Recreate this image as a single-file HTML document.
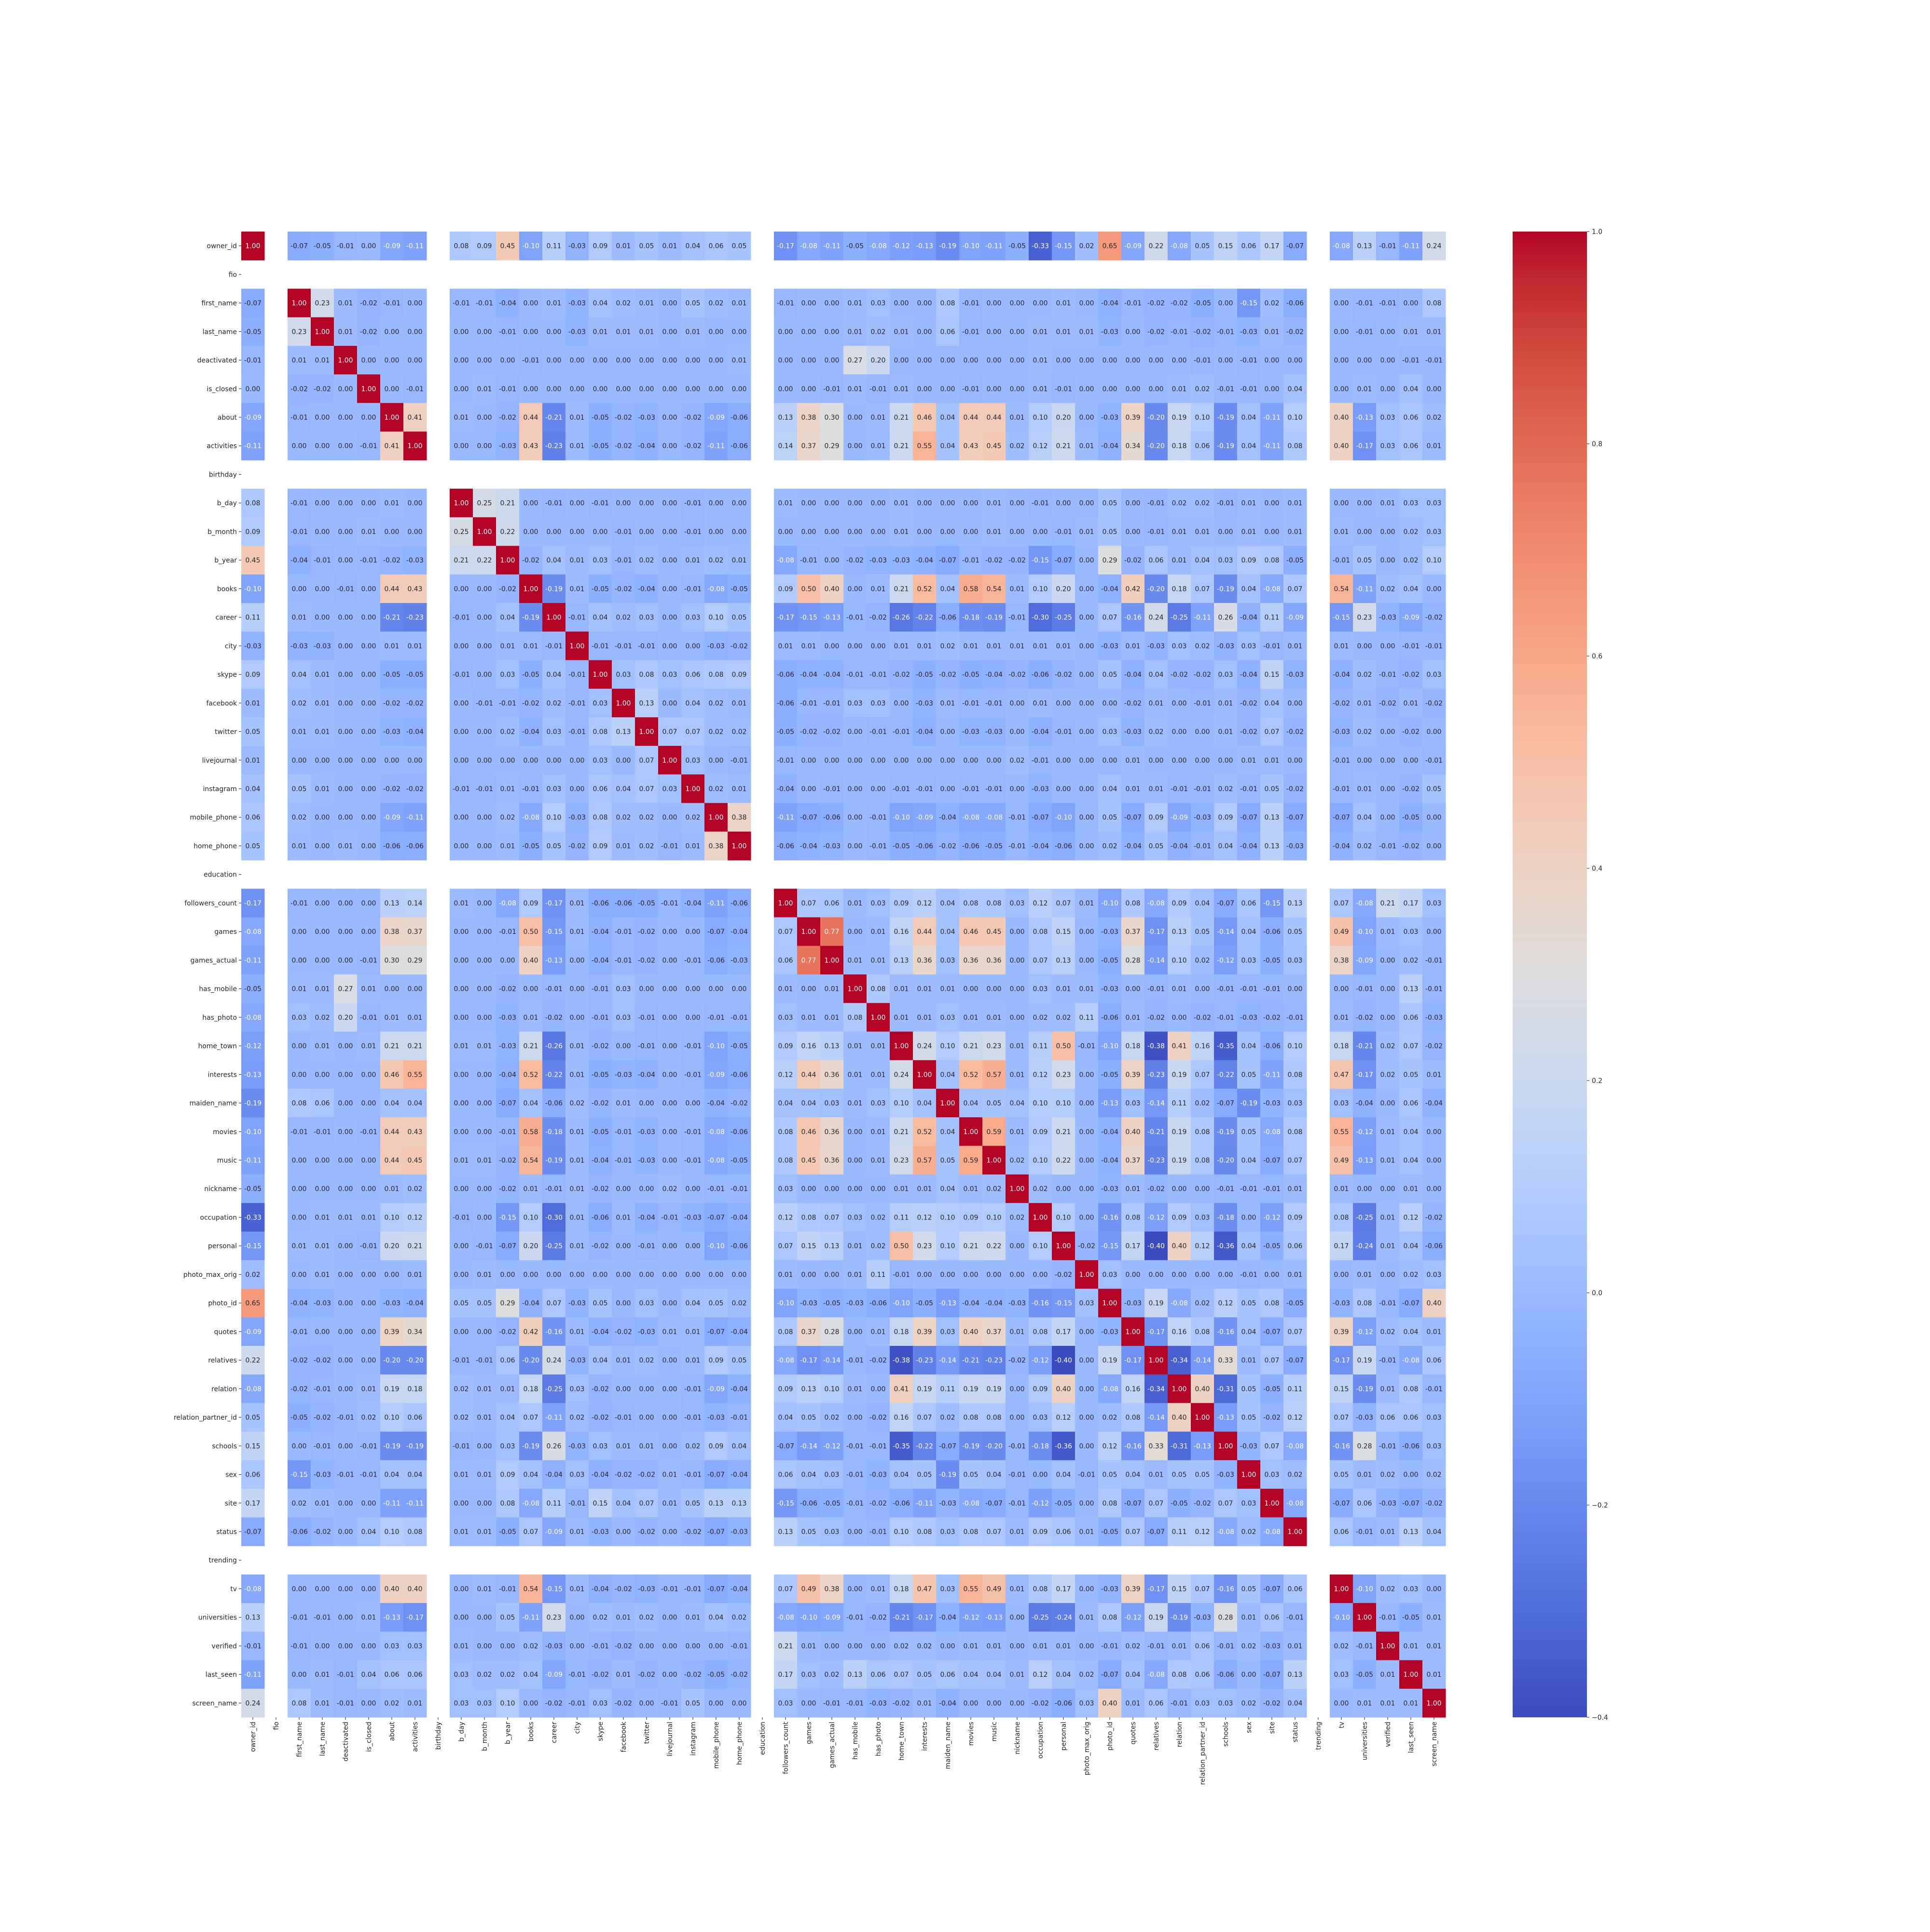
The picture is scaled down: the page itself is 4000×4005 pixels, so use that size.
<!DOCTYPE html>
<html><head><meta charset="utf-8"><style>
html,body{margin:0;padding:0;background:#fff}
svg text{font-family:"DejaVu Sans","Liberation Sans",sans-serif}
</style></head><body>
<svg id="chart" xmlns="http://www.w3.org/2000/svg" width="4000" height="4000" viewBox="0 0 4000 4000">
<rect width="4000" height="4000" fill="#fff"/>
<g id="cells"></g>
<g id="ylabels"></g>
<g id="xlabels"></g>
<g id="cbar"></g>
</svg>
<script>
const labels = ["owner_id","fio","first_name","last_name","deactivated","is_closed","about","activities","birthday","b_day","b_month","b_year","books","career","city","skype","facebook","twitter","livejournal","instagram","mobile_phone","home_phone","education","followers_count","games","games_actual","has_mobile","has_photo","home_town","interests","maiden_name","movies","music","nickname","occupation","personal","photo_max_orig","photo_id","quotes","relatives","relation","relation_partner_id","schools","sex","site","status","trending","tv","universities","verified","last_seen","screen_name"];
const emptyVars = ["fio","birthday","education","trending"];
const lowerRows = [
[],
[-0.07],
[-0.05,0.23],
[-0.01,0.01,0.01],
[-0.00,-0.02,-0.02,-0.00],
[-0.09,-0.01,-0.00,-0.00,-0.00],
[-0.11,-0.00,0.00,-0.00,-0.01,0.41],
[0.08,-0.01,0.00,0.00,0.00,0.01,-0.00],
[0.09,-0.01,-0.00,0.00,0.01,0.00,-0.00,0.25],
[0.45,-0.04,-0.01,0.00,-0.01,-0.02,-0.03,0.21,0.22],
[-0.10,-0.00,-0.00,-0.01,0.00,0.44,0.43,0.00,0.00,-0.02],
[0.11,0.01,0.00,0.00,-0.00,-0.21,-0.23,-0.01,0.00,0.04,-0.19],
[-0.03,-0.03,-0.03,0.00,0.00,0.01,0.01,-0.00,-0.00,0.01,0.01,-0.01],
[0.09,0.04,0.01,-0.00,0.00,-0.05,-0.05,-0.01,0.00,0.03,-0.05,0.04,-0.01],
[0.01,0.02,0.01,0.00,0.00,-0.02,-0.02,0.00,-0.01,-0.01,-0.02,0.02,-0.01,0.03],
[0.05,0.01,0.01,0.00,0.00,-0.03,-0.04,0.00,-0.00,0.02,-0.04,0.03,-0.01,0.08,0.13],
[0.01,-0.00,-0.00,-0.00,-0.00,-0.00,-0.00,-0.00,-0.00,0.00,-0.00,0.00,-0.00,0.03,-0.00,0.07],
[0.04,0.05,0.01,-0.00,-0.00,-0.02,-0.02,-0.01,-0.01,0.01,-0.01,0.03,0.00,0.06,0.04,0.07,0.03],
[0.06,0.02,-0.00,0.00,-0.00,-0.09,-0.11,-0.00,0.00,0.02,-0.08,0.10,-0.03,0.08,0.02,0.02,0.00,0.02],
[0.05,0.01,-0.00,0.01,0.00,-0.06,-0.06,0.00,0.00,0.01,-0.05,0.05,-0.02,0.09,0.01,0.02,-0.01,0.01,0.38],
[-0.17,-0.01,-0.00,-0.00,0.00,0.13,0.14,0.01,0.00,-0.08,0.09,-0.17,0.01,-0.06,-0.06,-0.05,-0.01,-0.04,-0.11,-0.06],
[-0.08,-0.00,0.00,-0.00,-0.00,0.38,0.37,0.00,0.00,-0.01,0.50,-0.15,0.01,-0.04,-0.01,-0.02,0.00,-0.00,-0.07,-0.04,0.07],
[-0.11,0.00,0.00,0.00,-0.01,0.30,0.29,-0.00,0.00,-0.00,0.40,-0.13,0.00,-0.04,-0.01,-0.02,0.00,-0.01,-0.06,-0.03,0.06,0.77],
[-0.05,0.01,0.01,0.27,0.01,0.00,0.00,0.00,0.00,-0.02,0.00,-0.01,0.00,-0.01,0.03,-0.00,-0.00,-0.00,-0.00,-0.00,0.01,0.00,0.01],
[-0.08,0.03,0.02,0.20,-0.01,0.01,0.01,0.00,0.00,-0.03,0.01,-0.02,0.00,-0.01,0.03,-0.01,-0.00,-0.00,-0.01,-0.01,0.03,0.01,0.01,0.08],
[-0.12,0.00,0.01,-0.00,0.01,0.21,0.21,0.01,0.01,-0.03,0.21,-0.26,0.01,-0.02,-0.00,-0.01,0.00,-0.01,-0.10,-0.05,0.09,0.16,0.13,0.01,0.01],
[-0.13,-0.00,0.00,-0.00,-0.00,0.46,0.55,-0.00,0.00,-0.04,0.52,-0.22,0.01,-0.05,-0.03,-0.04,0.00,-0.01,-0.09,-0.06,0.12,0.44,0.36,0.01,0.01,0.24],
[-0.19,0.08,0.06,-0.00,0.00,0.04,0.04,0.00,0.00,-0.07,0.04,-0.06,0.02,-0.02,0.01,-0.00,0.00,0.00,-0.04,-0.02,0.04,0.04,0.03,0.01,0.03,0.10,0.04],
[-0.10,-0.01,-0.01,-0.00,-0.01,0.44,0.43,0.00,0.00,-0.01,0.58,-0.18,0.01,-0.05,-0.01,-0.03,-0.00,-0.01,-0.08,-0.06,0.08,0.46,0.36,0.00,0.01,0.21,0.52,0.04],
[-0.11,-0.00,0.00,-0.00,-0.00,0.44,0.45,0.01,0.01,-0.02,0.54,-0.19,0.01,-0.04,-0.01,-0.03,0.00,-0.01,-0.08,-0.05,0.08,0.45,0.36,0.00,0.01,0.23,0.57,0.05,0.59],
[-0.05,0.00,0.00,0.00,0.00,0.01,0.02,-0.00,-0.00,-0.02,0.01,-0.01,0.01,-0.02,0.00,0.00,0.02,0.00,-0.01,-0.01,0.03,0.00,0.00,0.00,0.00,0.01,0.01,0.04,0.01,0.02],
[-0.33,-0.00,0.01,0.01,0.01,0.10,0.12,-0.01,-0.00,-0.15,0.10,-0.30,0.01,-0.06,0.01,-0.04,-0.01,-0.03,-0.07,-0.04,0.12,0.08,0.07,0.03,0.02,0.11,0.12,0.10,0.09,0.10,0.02],
[-0.15,0.01,0.01,-0.00,-0.01,0.20,0.21,-0.00,-0.01,-0.07,0.20,-0.25,0.01,-0.02,-0.00,-0.01,0.00,-0.00,-0.10,-0.06,0.07,0.15,0.13,0.01,0.02,0.50,0.23,0.10,0.21,0.22,0.00,0.10],
[0.02,-0.00,0.01,-0.00,-0.00,0.00,0.01,0.00,0.01,0.00,0.00,0.00,0.00,0.00,0.00,0.00,0.00,0.00,0.00,0.00,0.01,0.00,-0.00,0.01,0.11,-0.01,0.00,0.00,0.00,0.00,-0.00,0.00,-0.02],
[0.65,-0.04,-0.03,-0.00,-0.00,-0.03,-0.04,0.05,0.05,0.29,-0.04,0.07,-0.03,0.05,-0.00,0.03,-0.00,0.04,0.05,0.02,-0.10,-0.03,-0.05,-0.03,-0.06,-0.10,-0.05,-0.13,-0.04,-0.04,-0.03,-0.16,-0.15,0.03],
[-0.09,-0.01,-0.00,-0.00,-0.00,0.39,0.34,0.00,0.00,-0.02,0.42,-0.16,0.01,-0.04,-0.02,-0.03,0.01,0.01,-0.07,-0.04,0.08,0.37,0.28,0.00,0.01,0.18,0.39,0.03,0.40,0.37,0.01,0.08,0.17,0.00,-0.03],
[0.22,-0.02,-0.02,-0.00,-0.00,-0.20,-0.20,-0.01,-0.01,0.06,-0.20,0.24,-0.03,0.04,0.01,0.02,0.00,0.01,0.09,0.05,-0.08,-0.17,-0.14,-0.01,-0.02,-0.38,-0.23,-0.14,-0.21,-0.23,-0.02,-0.12,-0.40,0.00,0.19,-0.17],
[-0.08,-0.02,-0.01,0.00,0.01,0.19,0.18,0.02,0.01,0.01,0.18,-0.25,0.03,-0.02,-0.00,-0.00,0.00,-0.01,-0.09,-0.04,0.09,0.13,0.10,0.01,-0.00,0.41,0.19,0.11,0.19,0.19,0.00,0.09,0.40,0.00,-0.08,0.16,-0.34],
[0.05,-0.05,-0.02,-0.01,0.02,0.10,0.06,0.02,0.01,0.04,0.07,-0.11,0.02,-0.02,-0.01,-0.00,0.00,-0.01,-0.03,-0.01,0.04,0.05,0.02,-0.00,-0.02,0.16,0.07,0.02,0.08,0.08,0.00,0.03,0.12,0.00,0.02,0.08,-0.14,0.40],
[0.15,0.00,-0.01,0.00,-0.01,-0.19,-0.19,-0.01,-0.00,0.03,-0.19,0.26,-0.03,0.03,0.01,0.01,0.00,0.02,0.09,0.04,-0.07,-0.14,-0.12,-0.01,-0.01,-0.35,-0.22,-0.07,-0.19,-0.20,-0.01,-0.18,-0.36,0.00,0.12,-0.16,0.33,-0.31,-0.13],
[0.06,-0.15,-0.03,-0.01,-0.01,0.04,0.04,0.01,0.01,0.09,0.04,-0.04,0.03,-0.04,-0.02,-0.02,0.01,-0.01,-0.07,-0.04,0.06,0.04,0.03,-0.01,-0.03,0.04,0.05,-0.19,0.05,0.04,-0.01,0.00,0.04,-0.01,0.05,0.04,0.01,0.05,0.05,-0.03],
[0.17,0.02,0.01,-0.00,-0.00,-0.11,-0.11,-0.00,-0.00,0.08,-0.08,0.11,-0.01,0.15,0.04,0.07,0.01,0.05,0.13,0.13,-0.15,-0.06,-0.05,-0.01,-0.02,-0.06,-0.11,-0.03,-0.08,-0.07,-0.01,-0.12,-0.05,-0.00,0.08,-0.07,0.07,-0.05,-0.02,0.07,0.03],
[-0.07,-0.06,-0.02,-0.00,0.04,0.10,0.08,0.01,0.01,-0.05,0.07,-0.09,0.01,-0.03,0.00,-0.02,-0.00,-0.02,-0.07,-0.03,0.13,0.05,0.03,0.00,-0.01,0.10,0.08,0.03,0.08,0.07,0.01,0.09,0.06,0.01,-0.05,0.07,-0.07,0.11,0.12,-0.08,0.02,-0.08],
[-0.08,-0.00,-0.00,0.00,-0.00,0.40,0.40,0.00,0.01,-0.01,0.54,-0.15,0.01,-0.04,-0.02,-0.03,-0.01,-0.01,-0.07,-0.04,0.07,0.49,0.38,0.00,0.01,0.18,0.47,0.03,0.55,0.49,0.01,0.08,0.17,0.00,-0.03,0.39,-0.17,0.15,0.07,-0.16,0.05,-0.07,0.06],
[0.13,-0.01,-0.01,0.00,0.01,-0.13,-0.17,0.00,0.00,0.05,-0.11,0.23,-0.00,0.02,0.01,0.02,-0.00,0.01,0.04,0.02,-0.08,-0.10,-0.09,-0.01,-0.02,-0.21,-0.17,-0.04,-0.12,-0.13,-0.00,-0.25,-0.24,0.01,0.08,-0.12,0.19,-0.19,-0.03,0.28,0.01,0.06,-0.01,-0.10],
[-0.01,-0.01,0.00,0.00,-0.00,0.03,0.03,0.01,0.00,0.00,0.02,-0.03,-0.00,-0.01,-0.02,-0.00,0.00,0.00,-0.00,-0.01,0.21,0.01,-0.00,0.00,0.00,0.02,0.02,0.00,0.01,0.01,-0.00,0.01,0.01,0.00,-0.01,0.02,-0.01,0.01,0.06,-0.01,0.02,-0.03,0.01,0.02,-0.01],
[-0.11,0.00,0.01,-0.01,0.04,0.06,0.06,0.03,0.02,0.02,0.04,-0.09,-0.01,-0.02,0.01,-0.02,-0.00,-0.02,-0.05,-0.02,0.17,0.03,0.02,0.13,0.06,0.07,0.05,0.06,0.04,0.04,0.01,0.12,0.04,0.02,-0.07,0.04,-0.08,0.08,0.06,-0.06,-0.00,-0.07,0.13,0.03,-0.05,0.01],
[0.24,0.08,0.01,-0.01,-0.00,0.02,0.01,0.03,0.03,0.10,0.00,-0.02,-0.01,0.03,-0.02,-0.00,-0.01,0.05,-0.00,-0.00,0.03,0.00,-0.01,-0.01,-0.03,-0.02,0.01,-0.04,0.00,0.00,0.00,-0.02,-0.06,0.03,0.40,0.01,0.06,-0.01,0.03,0.03,0.02,-0.02,0.04,0.00,0.01,0.01,0.01]
];
const cbarTicks = [-0.4,-0.2,0.0,0.2,0.4,0.6,0.8,1.0];
const vmin = -0.4, vmax = 1.0;

const X0=500, Y0=480, CW=48, CH=(3560-480)/52;
const NS="http://www.w3.org/2000/svg";
const CM=[[59,76,192],[68,90,204],[77,104,215],[87,117,225],[98,130,234],[108,142,241],[119,154,247],[130,165,251],[141,176,254],[152,185,255],[163,194,255],[174,201,253],[184,208,249],[194,213,244],[204,217,238],[213,219,230],[221,221,221],[229,216,209],[236,211,197],[241,204,185],[245,196,173],[247,187,160],[247,177,148],[247,166,135],[244,154,123],[241,141,111],[236,127,99],[229,112,88],[222,96,77],[213,80,66],[203,62,56],[192,40,47],[180,4,38]];
function cmap(v){let t=(v-vmin)/(vmax-vmin);t=Math.max(0,Math.min(1,t));const p=t*32,i=Math.min(31,Math.floor(p)),f=p-i;
return CM[i].map((c,k)=>Math.round(c+(CM[i+1][k]-c)*f));}
function lum(rgb){const l=rgb.map(c=>{c/=255;return c<=0.03928?c/12.92:Math.pow((c+0.055)/1.055,2.4)});return 0.2126*l[0]+0.7152*l[1]+0.0722*l[2];}
const xs=i=>X0+i*CW, ys=i=>Y0+i*CH;
function mk(tag,attrs,parent){const e=document.createElementNS(NS,tag);for(const k in attrs)e.setAttribute(k,attrs[k]);parent.appendChild(e);return e;}

const valid=labels.map((l,i)=>i).filter(i=>!emptyVars.includes(labels[i]));
const n=valid.length;
const M=[];for(let a=0;a<n;a++){M.push(new Array(n).fill(0));M[a][a]=1;}
for(let a=0;a<n;a++){const r=lowerRows[a]||[];for(let b=0;b<a;b++){const v=r[b]!==undefined?r[b]:0;M[a][b]=v;M[b][a]=v;}}

const cells=document.getElementById('cells');
for(let a=0;a<n;a++)for(let b=0;b<n;b++){
  const v=M[a][b], col=cmap(v), ri=valid[a], ci=valid[b];
  const r=mk('rect',{x:xs(ci),y:ys(ri),width:CW+0.5,height:CH+0.5,fill:`rgb(${col})`},cells);
  
  
  const t=mk('text',{x:xs(ci)+CW/2,y:ys(ri)+CH/2+5,'text-anchor':'middle','font-size':'13.9',fill:lum(col)>0.408?'#262626':'#ffffff'},cells);
  
  
  t.textContent=v.toFixed(2);
}
const yl=document.getElementById('ylabels'), xl=document.getElementById('xlabels');
labels.forEach((lab,i)=>{
  const cy=ys(i)+CH/2;
  mk('line',{x1:X0-4.9,x2:X0,y1:cy,y2:cy,stroke:'#262626','stroke-width':1.1},yl);
  const t=mk('text',{x:X0-9,y:cy+5,'text-anchor':'end','font-size':'13.9',fill:'#262626'},yl);
  
  
  t.textContent=lab;
  const cx=xs(i)+CW/2;
  mk('line',{x1:cx,x2:cx,y1:3560,y2:3564.9,stroke:'#262626','stroke-width':1.1},xl);
  const u=mk('text',{x:0,y:0,'text-anchor':'end','font-size':'13.9',fill:'#262626',transform:`translate(${cx+5},3569) rotate(-90)`},xl);
  
  
  u.textContent=lab;
});
const cb=document.getElementById('cbar');
const defs=mk('defs',{},cb);
const g=mk('linearGradient',{id:'cg',x1:0,y1:1,x2:0,y2:0},defs);
CM.forEach((c,i)=>mk('stop',{offset:i/32,'stop-color':`rgb(${c})`},g));
const CBX=3135,CBW=154,CBT=480,CBB=3560;
const cr=mk('rect',{x:CBX,y:CBT,width:CBW,height:CBB-CBT,fill:'url(#cg)'},cb);


cbarTicks.forEach(v=>{
  const y=CBB-(v-vmin)/(vmax-vmin)*(CBB-CBT);
  mk('line',{x1:CBX+CBW,x2:CBX+CBW+4.9,y1:y,y2:y,stroke:'#262626','stroke-width':1.1},cb);
  const t=mk('text',{x:CBX+CBW+10,y:y+5,'font-size':'13.9',fill:'#262626'},cb);
  
  
  t.textContent=(v<0?'\u2212':'')+Math.abs(v).toFixed(1);
});
</script>
</body></html>
